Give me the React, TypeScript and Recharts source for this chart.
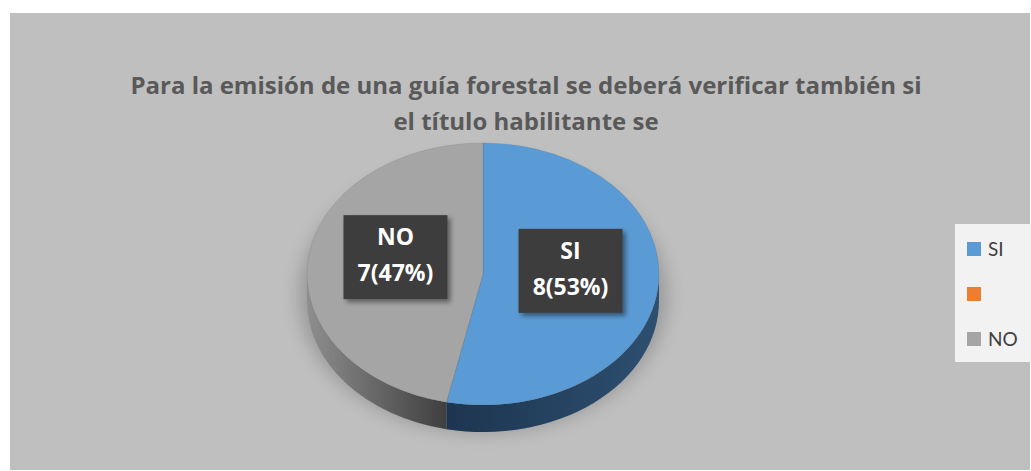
import React from 'react'
import { PieChart, Pie, Cell, Legend } from 'recharts'

const categories = ['SI', '', 'NO']
const counts = [8, 0, 7]
const colors = ['#5b9bd5', '#ed7d31', '#a5a5a5']
const titleLines = [
  'Para la emisión de una guía forestal se deberá verificar también si',
  'el título habilitante se'
]

// darker tones for the pie's side wall, light -> dark
const sideTones: Record<string, [string, string]> = {
  '#5b9bd5': ['#2d4f70', '#1d3550'],
  '#ed7d31': ['#a0541f', '#7a3a0f'],
  '#a5a5a5': ['#8e8e8e', '#3f3f3f']
}

const total = counts.reduce((a, b) => a + b, 0)
const data = categories.map((name, i) => ({ name, value: counts[i] }))

const TILT = 0.745
const DEPTH = 27
const FONT = '"Open Sans", Lato, sans-serif'

function Slice3D(props: any) {
  const { cx, cy, outerRadius, startAngle, endAngle, fill } = props
  if (Math.abs(startAngle - endAngle) < 0.01) return <g />
  const rx = outerRadius
  const ry = outerRadius * TILT
  const pt = (a: number, dy = 0) => {
    const r = (a * Math.PI) / 180
    return [cx + rx * Math.cos(r), cy - ry * Math.sin(r) + dy]
  }
  const a1 = Math.max(startAngle, endAngle)
  const a2 = Math.min(startAngle, endAngle)
  const [x1, y1] = pt(a1)
  const [x2, y2] = pt(a2)
  const large = a1 - a2 > 180 ? 1 : 0
  const top = `M${cx},${cy} L${x1},${y1} A${rx},${ry} 0 ${large} 1 ${x2},${y2} Z`

  // front wall is visible between 0 and -180 degrees
  const s = Math.min(a1, 0)
  const e = Math.max(a2, -180)
  let side = ''
  if (s > e) {
    const [sx, sy] = pt(s)
    const [ex, ey] = pt(e)
    side = `M${sx},${sy} A${rx},${ry} 0 0 1 ${ex},${ey} L${ex},${ey + DEPTH} A${rx},${ry} 0 0 0 ${sx},${sy + DEPTH} Z`
  }
  const tones = sideTones[fill] || ['#666', '#333']
  const gid = 'side-' + fill.replace('#', '')
  const first = Math.abs(a1 - 90) < 0.01

  return (
    <g>
      <defs>
        <linearGradient id={gid} x1="0" y1="0" x2="1" y2="0">
          <stop offset="0%" stopColor={fill === '#a5a5a5' ? tones[0] : tones[1]} />
          <stop offset="100%" stopColor={fill === '#a5a5a5' ? tones[1] : tones[0]} />
        </linearGradient>
        <filter id="pieShadow" x="-20%" y="-20%" width="140%" height="140%">
          <feGaussianBlur stdDeviation="9" />
        </filter>
      </defs>
      {first && (
        <ellipse
          cx={cx}
          cy={cy + DEPTH * 0.8}
          rx={rx + 8}
          ry={ry + 6}
          fill="#000"
          opacity={0.2}
          filter="url(#pieShadow)"
        />
      )}
      {side && <path d={side} fill={`url(#${gid})`} />}
      <path d={top} fill={fill} stroke="rgba(0,0,0,0.12)" strokeWidth={0.6} />
    </g>
  )
}

function SliceLabel(props: any) {
  const { cx, cy, midAngle, outerRadius, value, name, index } = props
  if (!value) return null
  const r = (midAngle * Math.PI) / 180
  const x = cx + 0.5 * outerRadius * Math.cos(r)
  const y = cy - 0.5 * outerRadius * TILT * Math.sin(r) - 10
  const pct = Math.round((value / total) * 100)
  const w = 104
  const h = 84
  return (
    <g>
      <defs>
        <filter id={'lblShadow' + index} x="-20%" y="-20%" width="150%" height="150%">
          <feDropShadow dx="3" dy="3" stdDeviation="2.5" floodColor="#000" floodOpacity="0.45" />
        </filter>
      </defs>
      <rect x={x - w / 2} y={y - h / 2} width={w} height={h} fill="#3c3c3c" filter={`url(#lblShadow${index})`} />
      <text x={x} y={y - 12} textAnchor="middle" fill="#fff" fontFamily={FONT} fontWeight={700} fontSize={23}>
        {name}
      </text>
      <text x={x} y={y + 24} textAnchor="middle" fill="#fff" fontFamily={FONT} fontWeight={700} fontSize={23}>
        {`${value}(${pct}%)`}
      </text>
    </g>
  )
}

function LegendBox(props: any) {
  const items = [...(props.payload || [])].sort(
    (a: any, b: any) => categories.indexOf(a.value) - categories.indexOf(b.value)
  )
  return (
    <div style={{ background: '#f2f2f2', width: 76, height: 138, paddingTop: 2, boxSizing: 'border-box', fontFamily: 'Lato, sans-serif' }}>
      {items.map((it: any, i: number) => (
        <div key={i} style={{ display: 'flex', alignItems: 'center', height: 45 }}>
          <span style={{ display: 'inline-block', width: 14, height: 14, background: it.color, marginLeft: 12, marginRight: 7 }} />
          <span style={{ fontSize: 19, color: '#404040' }}>{it.value}</span>
        </div>
      ))}
    </div>
  )
}

export default function App() {
  return (
    <div style={{ position: 'absolute', left: 0, top: 0, width: 1031, height: 471, background: '#fff' }}>
      <div style={{ position: 'absolute', left: 10, top: 13, width: 1020, height: 457, background: '#bfbfbf' }} />
      <div
        style={{
          position: 'absolute',
          left: 26,
          top: 67,
          width: 1000,
          textAlign: 'center',
          fontFamily: FONT,
          fontWeight: 700,
          fontSize: 24,
          lineHeight: '36px',
          color: '#595959'
        }}
      >
        {titleLines.map((t) => (
          <div key={t}>{t}</div>
        ))}
      </div>
      <div style={{ position: 'absolute', left: 0, top: 0 }}>
        <PieChart width={1031} height={471}>
          <Pie
            data={data}
            dataKey="value"
            nameKey="name"
            cx={478}
            cy={269}
            outerRadius={176}
            startAngle={90}
            endAngle={-270}
            stroke="none"
            shape={Slice3D}
            label={SliceLabel}
            labelLine={false}
            isAnimationActive={false}
          >
            {data.map((d, i) => (
              <Cell key={i} fill={colors[i]} />
            ))}
          </Pie>
          <Legend
            layout="vertical"
            align="right"
            verticalAlign="middle"
            content={LegendBox}
            wrapperStyle={{ top: 224, left: 955, right: 'auto', width: 76 }}
          />
        </PieChart>
      </div>
    </div>
  )
}
